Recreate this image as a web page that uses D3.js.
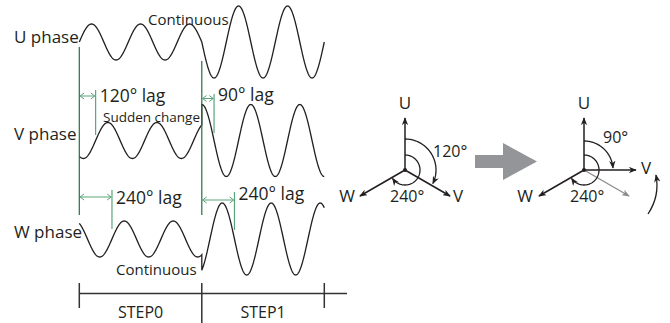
<!DOCTYPE html>
<html><head><meta charset="utf-8">
<script src="https://cdn.jsdelivr.net/npm/d3@7"></script>
<style>
html,body{margin:0;padding:0;background:#fff;}
svg{display:block;font-family:"Open Sans","Noto Sans",sans-serif;}
</style></head>
<body><svg id="c" width="670" height="323"></svg>
<script>
// ---- data ----
const phaseNames = ["U", "V", "W"];
const rowLabels = ["U phase", "V phase", "W phase"];
const stepLabels = ["STEP0", "STEP1"];
const lagStep0 = [0, 120, 240];      // degrees of lag behind U in STEP0
const lagStep1 = [0, 90, 240];       // degrees of lag behind U in STEP1
const ampStep0 = [0.5, 0.5, 0.5];    // relative amplitude STEP0
const ampStep1 = [1, 1, 1];          // relative amplitude STEP1
const stepDegrees = 900;             // 2.5 cycles per step
const noteLabels = ["Continuous", "Sudden change", "Continuous"];
const phasorStep0 = [0, 120, 240];   // phasor angles (clockwise from U)
const phasorStep1 = [0, 90, 240];
const ghostAngle = [120];            // previous V position in STEP1 diagram

// ---- drawing ----
const svg = d3.select("#c");
const ink = "#231f20", dark = "#22703f", light = "#5aa57b";
const x = d3.scaleLinear().domain([0, 2 * stepDegrees]).range([79.3, 324.3]);
const rowY = d3.scalePoint().domain(phaseNames).range([42, 239]);
const amp = d3.scaleLinear().domain([0, 1]).range([0, 36]);
const lags = [lagStep0, lagStep1], amps = [ampStep0, ampStep1];

// waveforms
const line = d3.line().x(d => x(d.t)).y(d => d.y);
phaseNames.forEach((p, i) => {
  const pts = [];
  [0, 1].forEach(s => {
    for (let t = s * stepDegrees; t <= (s + 1) * stepDegrees; t += 2) {
      const v = Math.sin((t - lags[s][i]) * Math.PI / 180) * amps[s][i];
      pts.push({t, y: rowY(p) - amp(v)});
    }
  });
  svg.append("path").attr("d", line(pts)).attr("fill", "none")
    .attr("stroke", ink).attr("stroke-width", 1.3);
});

// row labels
rowLabels.forEach((l, i) => {
  svg.append("text").attr("x", 14).attr("y", [43, 140, 238][i])
    .attr("font-size", 17).attr("fill", ink).text(l);
});

// main step boundaries (dark green)
[[0, 47], [stepDegrees, 61]].forEach(([t, y0]) => {
  svg.append("line").attr("x1", x(t)).attr("x2", x(t)).attr("y1", y0).attr("y2", 215)
    .attr("stroke", dark).attr("stroke-width", 1.2);
});

// lag markers
const lagLayout = {
  "V0": {ay: 96, v0: 90, v1: 135, ty: 102},
  "V1": {ay: 98.5, v0: 94, v1: 133, ty: 101},
  "W0": {ay: 197, v0: 190, v1: 229, ty: 204},
  "W1": {ay: 200, v0: 192, v1: 230, ty: 200}
};
function chev(g, xx, y, dir) {
  g.append("path").attr("d", `M${xx + dir * 4},${y - 3}L${xx},${y}L${xx + dir * 4},${y + 3}`)
    .attr("fill", "none").attr("stroke", light).attr("stroke-width", 1);
}
[0, 1].forEach(s => {
  phaseNames.forEach((p, i) => {
    const lag = lags[s][i];
    if (!lag) return;
    const L = lagLayout[p + s];
    const xa = x(s * stepDegrees), xb = x(s * stepDegrees + lag);
    const g = svg.append("g");
    g.append("line").attr("x1", xa + 0.8).attr("x2", xb - 0.8).attr("y1", L.ay).attr("y2", L.ay)
      .attr("stroke", light).attr("stroke-width", 1);
    chev(g, xa + 0.8, L.ay, 1); chev(g, xb - 0.8, L.ay, -1);
    g.append("line").attr("x1", xb).attr("x2", xb).attr("y1", L.v0).attr("y2", L.v1)
      .attr("stroke", light).attr("stroke-width", 1.2);
    g.append("text").attr("x", xb + 4).attr("y", L.ty).attr("font-size", 17.5)
      .attr("fill", ink).text(`${lag}° lag`);
  });
});

// notes
[[148, 25, 15], [103, 122, 13.5], [116, 275, 15]].forEach(([tx, ty, fs], i) => {
  svg.append("text").attr("x", tx).attr("y", ty).attr("font-size", fs)
    .attr("fill", ink).text(noteLabels[i]);
});

// timeline
const ty = 293.5;
svg.append("line").attr("x1", x(0)).attr("x2", 347).attr("y1", ty).attr("y2", ty)
  .attr("stroke", "#333").attr("stroke-width", 1.5);
[0, stepDegrees, 2 * stepDegrees].forEach((t, k) => {
  svg.append("line").attr("x1", x(t)).attr("x2", x(t)).attr("y1", 283).attr("y2", k === 1 ? 323 : 308)
    .attr("stroke", "#333").attr("stroke-width", 1.5);
});
stepLabels.forEach((l, s) => {
  svg.append("text").attr("x", x(s * stepDegrees + stepDegrees / 2)).attr("y", 318)
    .attr("text-anchor", "middle").attr("font-size", 16).attr("fill", ink).text(l);
});

// arrow markers
const defs = svg.append("defs");
function mk(id, col) {
  defs.append("marker").attr("id", id).attr("viewBox", "0 0 10 8").attr("refX", 9).attr("refY", 4)
    .attr("markerWidth", 8).attr("markerHeight", 6.4).attr("markerUnits", "userSpaceOnUse")
    .attr("orient", "auto")
    .append("path").attr("d", "M0,0L10,4L0,8L3,4Z").attr("fill", col);
}
mk("ah", ink); mk("ahg", "#8a8a8a");

// phasor diagrams
const PL = 52;
const pol = (c, a, r) => [c[0] + r * Math.sin(a * Math.PI / 180), c[1] - r * Math.cos(a * Math.PI / 180)];
function arcPath(c, a0, a1, r) {
  const pts = d3.range(a0, a1 + 0.01, 2).map(a => pol(c, a, r));
  return d3.line()(pts);
}
function diagram(c, angles, labelPos, arcR, arcLabelPos, ghost) {
  const g = svg.append("g");
  if (ghost) ghost.forEach(a => {
    const e = pol(c, a, PL);
    g.append("line").attr("x1", c[0]).attr("y1", c[1]).attr("x2", e[0]).attr("y2", e[1])
      .attr("stroke", "#8a8a8a").attr("stroke-width", 1.3).attr("marker-end", "url(#ahg)");
  });
  angles.forEach((a, i) => {
    const e = pol(c, a, PL);
    g.append("line").attr("x1", c[0]).attr("y1", c[1]).attr("x2", e[0]).attr("y2", e[1])
      .attr("stroke", ink).attr("stroke-width", 1.5).attr("marker-end", "url(#ah)");
    g.append("text").attr("x", labelPos[i][0]).attr("y", labelPos[i][1])
      .attr("text-anchor", "middle").attr("font-size", 17).attr("fill", ink).text(phaseNames[i]);
  });
  g.append("circle").attr("cx", c[0]).attr("cy", c[1]).attr("r", 2).attr("fill", ink);
  g.append("path").attr("d", arcPath(c, 0, angles[1] - 3, arcR)).attr("fill", "none")
    .attr("stroke", ink).attr("stroke-width", 1.3).attr("marker-end", "url(#ah)");
  g.append("path").attr("d", arcPath(c, 0, angles[2] - 4, 15)).attr("fill", "none")
    .attr("stroke", ink).attr("stroke-width", 1.3).attr("marker-end", "url(#ah)");
  g.append("text").attr("x", arcLabelPos[0][0]).attr("y", arcLabelPos[0][1]).attr("font-size", 16)
    .attr("fill", ink).text(`${angles[1]}°`);
  g.append("text").attr("x", arcLabelPos[1][0]).attr("y", arcLabelPos[1][1]).attr("font-size", 16)
    .attr("fill", ink).text(`${angles[2]}°`);
}
diagram([405, 170], phasorStep0, [[405, 109], [458, 202], [347, 202]], 31,
  [[433, 157], [390, 202]], null);
diagram([584, 170], phasorStep1, [[584, 109], [646, 174], [525, 202]], 29,
  [[603, 143], [570, 202]], ghostAngle);

// big gray arrow
svg.append("path").attr("d", "M475,155L503,155L503,143L537,161.5L503,180L503,168L475,168Z")
  .attr("fill", "#939598");

// rotation arrow
svg.append("path").attr("d", "M648,214Q660,196 656,175").attr("fill", "none")
  .attr("stroke", ink).attr("stroke-width", 1.3).attr("marker-end", "url(#ah)");
</script></body></html>
